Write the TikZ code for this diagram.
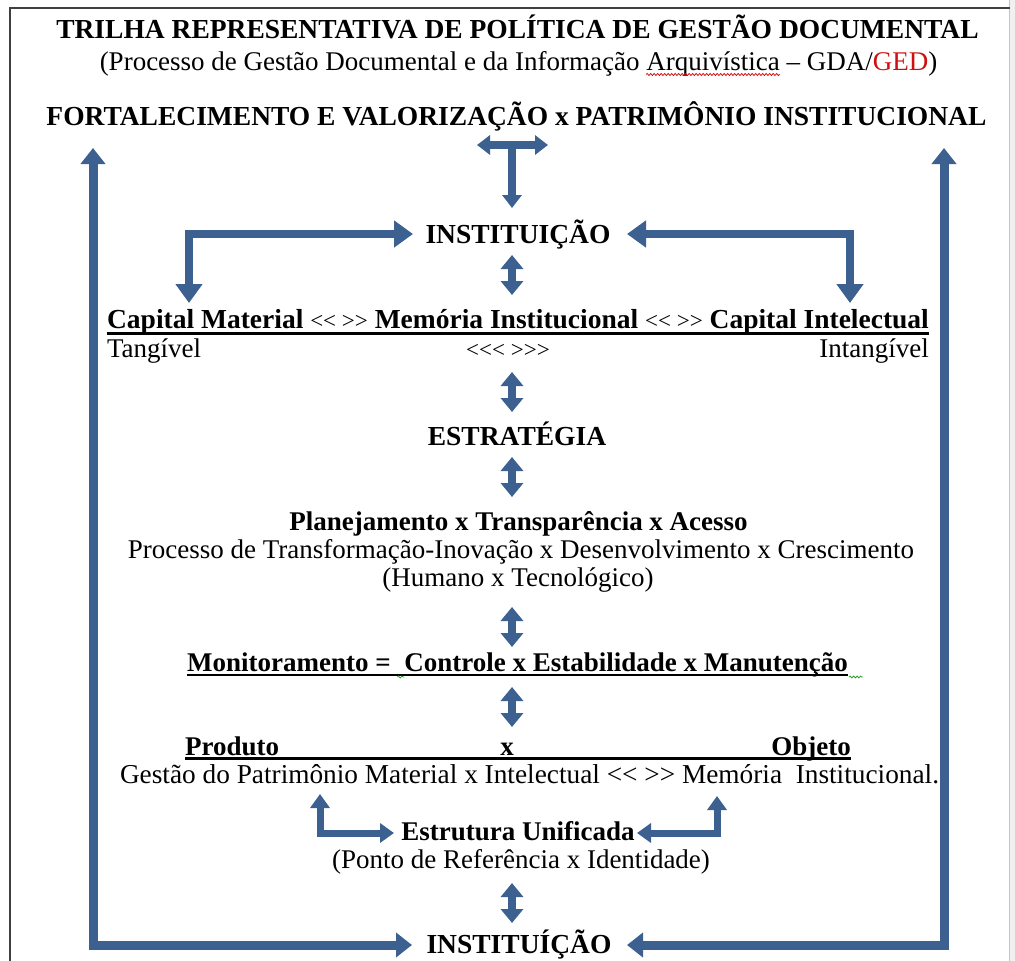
\documentclass[tikz,border=0pt]{standalone}
\usepackage{fontspec}
\setmainfont{Liberation Serif}
\usetikzlibrary{arrows.meta,decorations.pathmorphing}
\definecolor{arrblue}{HTML}{3C6190}
\definecolor{gedred}{HTML}{D01010}
\definecolor{wavegreen}{HTML}{2E9E2E}
\definecolor{framegray}{HTML}{404040}
\newlength\preA \newlength\wordA \newlength\preM \newlength\spM
\newcommand\regfont{\fontsize{27}{32}\selectfont}
\newcommand\boldfont{\fontsize{27.5}{32}\selectfont\bfseries}
\newcommand\boldfontm{\fontsize{27}{32}\selectfont\bfseries}
\begin{document}
\settowidth{\preA}{\regfont (Processo de Gestão Documental e da Informação\ }%
\settowidth{\wordA}{\regfont Arquivística}%
\settowidth{\preM}{\boldfontm Monitoramento =\ }%
\settowidth{\spM}{\boldfontm\ }%
\begin{tikzpicture}[x=1pt,y=-1pt,
  tb/.style={font=\boldfont, inner sep=0pt, anchor=base},
  tbm/.style={font=\boldfontm, inner sep=0pt, anchor=base},
  tr/.style={font=\regfont, inner sep=0pt, anchor=base},
  tipM/.tip={Triangle[width=22pt,length=14pt]},
  tipT/.tip={Triangle[width=19pt,length=13pt]},
  tipB/.tip={Triangle[width=26pt,length=19pt]},
  tipS/.tip={Triangle[width=19pt,length=14pt]},
  tipG/.tip={Triangle[width=24pt,length=16pt]},
  arr/.style={draw=arrblue, line width=8pt, line join=miter},
  bigarr/.style={draw=arrblue, line width=9pt, line join=miter},
  redwave/.style={draw=gedred, line width=0.8pt, decorate, decoration={snake, amplitude=1pt, segment length=3.5pt}},
  greenwave/.style={draw=wavegreen, line width=0.8pt, decorate, decoration={snake, amplitude=1pt, segment length=3.5pt}}
]
\useasboundingbox (0,0) rectangle (1015,961);
% page frame
\fill[gray!12] (1009,0) rectangle (1015,961);
\draw[gray!45, line width=0.8pt] (1009,0) -- (1009,961);
\draw[framegray, line width=1.5pt] (10,961) -- (10,8) -- (1010,8);

% texts
\node[tb] (title) at (517.5,38) {TRILHA REPRESENTATIVA DE POLÍTICA DE GESTÃO DOCUMENTAL};
\node[tr] (sub) at (518.5,70) {(Processo de Gestão Documental e da Informação Arquivística -- GDA/{\color{gedred}GED})};
\draw[redwave] ([xshift=\preA,yshift=-4.5pt]sub.base west) -- ([xshift=\preA+\wordA,yshift=-4.5pt]sub.base west);
\node[tb] (fort) at (516.5,125) {FORTALECIMENTO E VALORIZAÇÃO x PATRIMÔNIO INSTITUCIONAL};

\node[tb] (inst1) at (518,243) {INSTITUIÇÃO};

\node[tb] (cap) at (518,328) {Capital Material {\mdseries\fontsize{23}{28}\selectfont <{}< >{}>} Memória Institucional {\mdseries\fontsize{23}{28}\selectfont <{}< >{}>} Capital Intelectual};
\draw[black, line width=2.6pt] ([yshift=-5.5pt]cap.base west) -- ([yshift=-5.5pt]cap.base east);
\node[tr, anchor=base west] (tang) at ([yshift=-29pt]cap.base west) {Tangível};
\node[tr, font=\fontsize{23}{28}\selectfont] (mid) at (508,357) {<{}<{}< >{}>{}>};
\node[tr, anchor=base east] (intang) at ([yshift=-29pt]cap.base east) {Intangível};

\node[tb] (estr) at (517,445) {ESTRATÉGIA};

\node[tbm] (plan) at (518.5,530) {Planejamento x Transparência x Acesso};
\node[tr] (proc) at (521,558) {Processo de Transformação-Inovação x Desenvolvimento x Crescimento};
\node[tr] (hum) at (518,586) {(Humano x Tecnológico)};

\node[tbm] (mon) at (517.5,671) {Monitoramento =\ \ Controle x Estabilidade x Manutenção};
\draw[black, line width=1.6pt] ([yshift=-4pt]mon.base west) -- ([yshift=-4pt]mon.base east);
\draw[greenwave] ([xshift=\preM,yshift=-6pt]mon.base west) -- ([xshift=\preM+\spM,yshift=-6pt]mon.base west);
\draw[greenwave] ([xshift=1pt,yshift=-6pt]mon.base east) -- ([xshift=15pt,yshift=-6pt]mon.base east);

\node[tbm, anchor=base west] (prod) at (185,755) {Produto};
\node[tbm] (px) at (507,755) {x};
\node[tbm, anchor=base east] (obj) at (851,755) {Objeto};
\draw[black, line width=2.4pt] ([yshift=-3.5pt]prod.base west) -- ([yshift=-3.5pt]obj.base east);

\node[tr, font=\fontsize{27.3}{32}\selectfont] (gest) at (529.5,783) {Gestão do Patrimônio Material x Intelectual <{}< >{}> Memória\ \ Institucional.};

\node[tbm] (unif) at (518,840) {Estrutura Unificada};
\node[tr] (ponto) at (521,868) {(Ponto de Referência x Identidade)};

\node[tb] (inst2) at (519,953) {INSTITUÍÇÃO};

% arrow end coordinates
\coordinate (tl) at (477,145);
\coordinate (tr) at (548,145);
\coordinate (tc) at (512,145);
\coordinate (tbt) at (512,208);
\coordinate (a1t) at (512,255); \coordinate (a1b) at (512,295);
\coordinate (lb1) at (413,234); \coordinate (lb2) at (189,303);
\coordinate (rb1) at (627,234); \coordinate (rb2) at (850,303);
\coordinate (a2t) at (512,372); \coordinate (a2b) at (512,412);
\coordinate (a3t) at (512,457); \coordinate (a3b) at (512,497);
\coordinate (a4t) at (512,607); \coordinate (a4b) at (512,647);
\coordinate (a5t) at (512,687); \coordinate (a5b) at (512,727);
\coordinate (sl1) at (320,794); \coordinate (sl2) at (394,833);
\coordinate (sr1) at (717,796); \coordinate (sr2) at (637,833);
\coordinate (a6t) at (512,883); \coordinate (a6b) at (512,923);
\coordinate (bl1) at (93,148); \coordinate (bl2) at (412,945);
\coordinate (br1) at (944,148); \coordinate (br2) at (627,945);

% arrows
\draw[arr, tipT-tipT] (tl) -- (tr);
\draw[arr, -tipT] (tc) -- (tbt);
\draw[arr, tipM-tipM] (a1t) -- (a1b);
\draw[arr, tipB-tipB] (lb1) -| (lb2);
\draw[arr, tipB-tipB] (rb1) -| (rb2);
\draw[arr, tipM-tipM] (a2t) -- (a2b);
\draw[arr, tipM-tipM] (a3t) -- (a3b);
\draw[arr, tipM-tipM] (a4t) -- (a4b);
\draw[arr, tipM-tipM] (a5t) -- (a5b);
\draw[arr, line width=7pt, tipS-tipS] (sl1) |- (sl2);
\draw[arr, line width=7pt, tipS-tipS] (sr1) |- (sr2);
\draw[arr, tipM-tipM] (a6t) -- (a6b);
\draw[bigarr, tipG-tipG] (bl1) |- (bl2);
\draw[bigarr, tipG-tipG] (br1) |- (br2);
\end{tikzpicture}
\end{document}
